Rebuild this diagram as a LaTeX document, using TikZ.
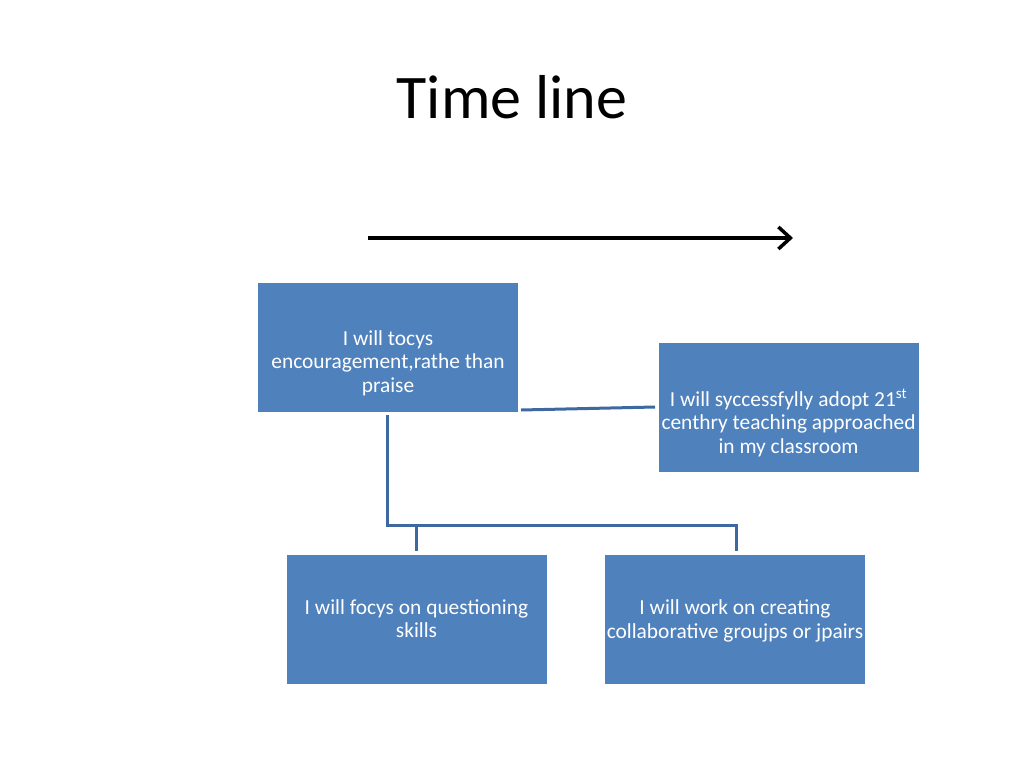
\documentclass[tikz,border=0pt]{standalone}
\usepackage{fontspec}
\setmainfont{Carlito}
\usetikzlibrary{arrows.meta}
\definecolor{boxblue}{HTML}{4F81BD}
\definecolor{linkblue}{HTML}{3D68A0}
\begin{document}
\begin{tikzpicture}[x=1pt,y=-1pt,
  box/.style={fill=boxblue,draw=none,minimum width=260pt,minimum height=129pt,inner sep=0pt},
  txt/.style={text=white,align=center,font=\fontsize{21.4}{23.5}\selectfont,inner sep=0pt},
  link/.style={draw=linkblue,line width=3pt}]
\useasboundingbox (0,0) rectangle (1024,768);
\node[font=\fontsize{62}{70}\selectfont] (title) at (512,97) {Time line};
\coordinate (ts) at (368,238);
\coordinate (te) at (793,238);
\draw[line width=4pt,-{Straight Barb[length=12pt,width=22pt,line width=3.5pt]}] (ts) -- (te);
\node[box] (a) at (388,347.5) {};
\node[box] (b) at (788.5,407) {};
\node[box] (c) at (416.5,619.5) {};
\node[box] (d) at (735,619.5) {};
\node[txt] (ta) at (388,363) {I will tocys\\encouragement,rathe than\\praise};
\node[txt] (tb) at (788.5,423) {I will syccessfylly adopt 21\textsuperscript{st}\\centhry teaching approached\\in my classroom};
\node[txt] (tc) at (416.5,618.5) {I will focys on questioning\\skills};
\node[txt] (td) at (735,621) {I will work on creating\\collaborative groujps or jpairs};
\coordinate (a1) at (521,410);
\coordinate (b1) at (655,407);
\draw[link] (a1) -- (b1);
\coordinate (a2) at (387,415);
\coordinate (j) at (387,525);
\coordinate (j2) at (736,525);
\coordinate (d1) at (736,551);
\coordinate (jc) at (416,525);
\coordinate (c1) at (416,551);
\draw[link] (a2) -- (j) -- (j2) -- (d1);
\draw[link] (jc) -- (c1);
\end{tikzpicture}
\end{document}
